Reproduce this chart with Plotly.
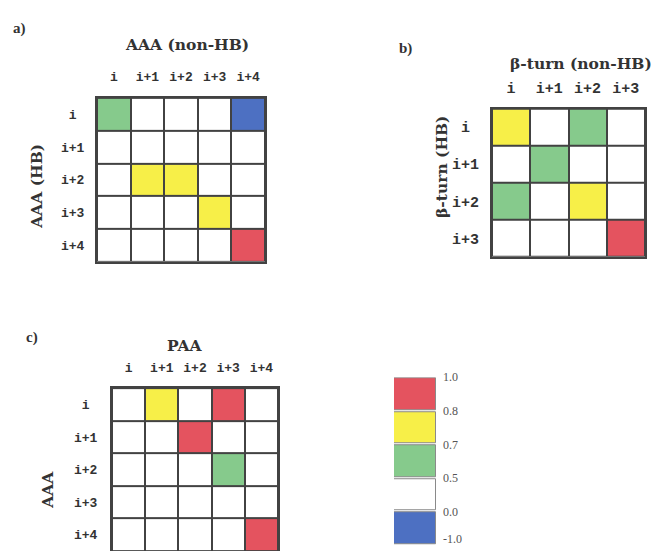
import plotly.graph_objects as go

W, H = 652, 551

# ---------------- data ----------------
AAA_LABELS = ["i", "i+1", "i+2", "i+3", "i+4"]
BTURN_LABELS = ["i", "i+1", "i+2", "i+3"]

# Panel a: AAA (HB) rows vs AAA (non-HB) columns
AAA_HB_VS_NONHB = [
    [0.60, 0.20, 0.20, 0.20, -0.50],
    [0.20, 0.20, 0.20, 0.20, 0.20],
    [0.20, 0.75, 0.75, 0.20, 0.20],
    [0.20, 0.20, 0.20, 0.75, 0.20],
    [0.20, 0.20, 0.20, 0.20, 0.90],
]
# Panel b: beta-turn (HB) rows vs beta-turn (non-HB) columns
BTURN_HB_VS_NONHB = [
    [0.75, 0.20, 0.60, 0.20],
    [0.20, 0.60, 0.20, 0.20],
    [0.60, 0.20, 0.75, 0.20],
    [0.20, 0.20, 0.20, 0.90],
]
# Panel c: AAA rows vs PAA columns
AAA_VS_PAA = [
    [0.20, 0.75, 0.20, 0.90, 0.20],
    [0.20, 0.20, 0.90, 0.20, 0.20],
    [0.20, 0.20, 0.20, 0.60, 0.20],
    [0.20, 0.20, 0.20, 0.20, 0.20],
    [0.20, 0.20, 0.20, 0.20, 0.90],
]

# Legend (bottom to top)
LEGEND_VALUES = [-0.50, 0.20, 0.60, 0.75, 0.90]
LEGEND_TICKS = ["-1.0", "0.0", "0.5", "0.7", "0.8", "1.0"]

# ---------------- style ----------------
BLUE, WHITE, GREEN, YELLOW, RED = "#4d70c2", "#ffffff", "#86ca8c", "#f7ef48", "#e4535f"
COLORSCALE = [
    [0.0, BLUE], [0.5, BLUE],
    [0.5, WHITE], [0.75, WHITE],
    [0.75, GREEN], [0.85, GREEN],
    [0.85, YELLOW], [0.9, YELLOW],
    [0.9, RED], [1.0, RED],
]
LEGEND_COLORS = [BLUE, WHITE, GREEN, YELLOW, RED]
LEGEND_TICK_POS = [0.2, 1, 2, 3, 4, 5]   # label positions along the legend (box units)
GRID = "#424242"
TXT = "#333333"
MONO = "Liberation Mono"
SERIF = "Liberation Serif"
TITLE_FONT = "DejaVu Serif"


def px_x(a, b):
    return [a / W, b / W]


def px_y(top, bottom):
    return [1 - bottom / H, 1 - top / H]


fig = go.Figure()

panels = [
    # (matrix, labels, xaxis, yaxis, xdomain, ydomain, font size, ylabel standoff, xlabel standoff, mirror x)
    (AAA_HB_VS_NONHB, AAA_LABELS, "x", "y", px_x(97, 265), px_y(92, 258), 13, 8, 10, True),
    (BTURN_HB_VS_NONHB, BTURN_LABELS, "x2", "y2", px_x(492, 645), px_y(103, 253), 15, 8, 8, True),
    (AAA_VS_PAA, AAA_LABELS, "x3", "y3", px_x(112, 278), px_y(386, 551), 13, 10, 9, False),
]

layout_axes = {}
shapes = []
for k, (z, labels, xa, ya, xd, yd, fs, ystand, xstand, xmirror) in enumerate(panels):
    fig.add_trace(go.Heatmap(
        z=z, x=labels, y=labels, xaxis=xa, yaxis=ya,
        colorscale=COLORSCALE, zmin=-1, zmax=1, showscale=False,
        xgap=2, ygap=2, hoverinfo="skip",
    ))
    ticktext = [lab.center(3, "\u00a0") for lab in labels]
    xname = "xaxis" if k == 0 else f"xaxis{k + 1}"
    yname = "yaxis" if k == 0 else f"yaxis{k + 1}"
    font = dict(family=MONO, size=fs, color=TXT, weight="bold")
    layout_axes[xname] = dict(
        domain=xd, anchor=ya, side="top", type="category",
        tickmode="array", tickvals=labels, ticktext=labels,
        showgrid=False, zeroline=False, ticks="", ticklabelstandoff=xstand,
        showline=True, mirror=xmirror, linecolor=GRID, linewidth=2,
        tickfont=font, fixedrange=True,
    )
    layout_axes[yname] = dict(
        domain=yd, anchor=xa, type="category", autorange="reversed",
        tickmode="array", tickvals=labels, ticktext=ticktext,
        showgrid=False, zeroline=False, ticks="", ticklabelstandoff=ystand,
        showline=True, mirror=True, linecolor=GRID, linewidth=2,
        tickfont=font, fixedrange=True,
    )
    shapes.append(dict(
        type="rect", xref=f"{xa} domain", yref=f"{ya} domain",
        x0=0, x1=1, y0=0, y1=1, fillcolor=GRID, line_width=0, layer="below",
    ))

# legend as stacked boxes
fig.add_trace(go.Bar(
    x=[0] * len(LEGEND_VALUES),
    y=[0.94] * len(LEGEND_VALUES),
    base=[i + 0.03 for i in range(len(LEGEND_VALUES))],
    width=1.0,
    marker=dict(color=LEGEND_COLORS, line=dict(color="#8a8a8a", width=1)),
    xaxis="x4", yaxis="y4", hoverinfo="skip", showlegend=False,
))
layout_axes["xaxis4"] = dict(
    domain=px_x(394, 436), anchor="y4", range=[-0.5, 0.5],
    showgrid=False, zeroline=False, showticklabels=False, ticks="", fixedrange=True,
)
layout_axes["yaxis4"] = dict(
    domain=px_y(375, 545), anchor="x4", side="right", range=[0, len(LEGEND_VALUES)],
    tickmode="array", tickvals=LEGEND_TICK_POS, ticktext=LEGEND_TICKS,
    showgrid=False, zeroline=False, ticks="", ticklabelstandoff=6,
    tickfont=dict(family=SERIF, size=12, color="#555555"), fixedrange=True,
)


def ann(text, x, y, size=15, angle=0, family=SERIF):
    return dict(
        text=text, x=x / W, y=1 - y / H, xref="paper", yref="paper",
        showarrow=False, textangle=angle, xanchor="center", yanchor="middle",
        font=dict(family=family, size=size, color=TXT),
    )


annotations = [
    ann("<b>a)</b>", 19, 22),
    ann("<b>AAA (non-HB)</b>", 187, 38, 15.5, family=TITLE_FONT),
    ann("<b>AAA (HB)</b>", 37, 182, 15.5, angle=-90, family=TITLE_FONT),
    ann("<b>b)</b>", 405, 42),
    ann("<b>β-turn (non-HB)</b>", 581, 57, 15.5, family=TITLE_FONT),
    ann("<b>β-turn (HB)</b>", 442, 162, 15.5, angle=-90, family=TITLE_FONT),
    ann("<b>c)</b>", 32, 335),
    ann("<b>PAA</b>", 185, 343, 15.5, family=TITLE_FONT),
    ann("<b>AAA</b>", 48, 489, 15.5, angle=-90, family=TITLE_FONT),
]

fig.update_layout(
    width=W, height=H, margin=dict(l=0, r=0, t=0, b=0),
    paper_bgcolor="white", plot_bgcolor="white",
    showlegend=False, shapes=shapes, annotations=annotations,
    bargap=0, **layout_axes,
)

fig.write_html(
    "out.html",
    config={"displayModeBar": False},
    post_script="document.body.style.margin='0';document.body.style.padding='0';",
)
